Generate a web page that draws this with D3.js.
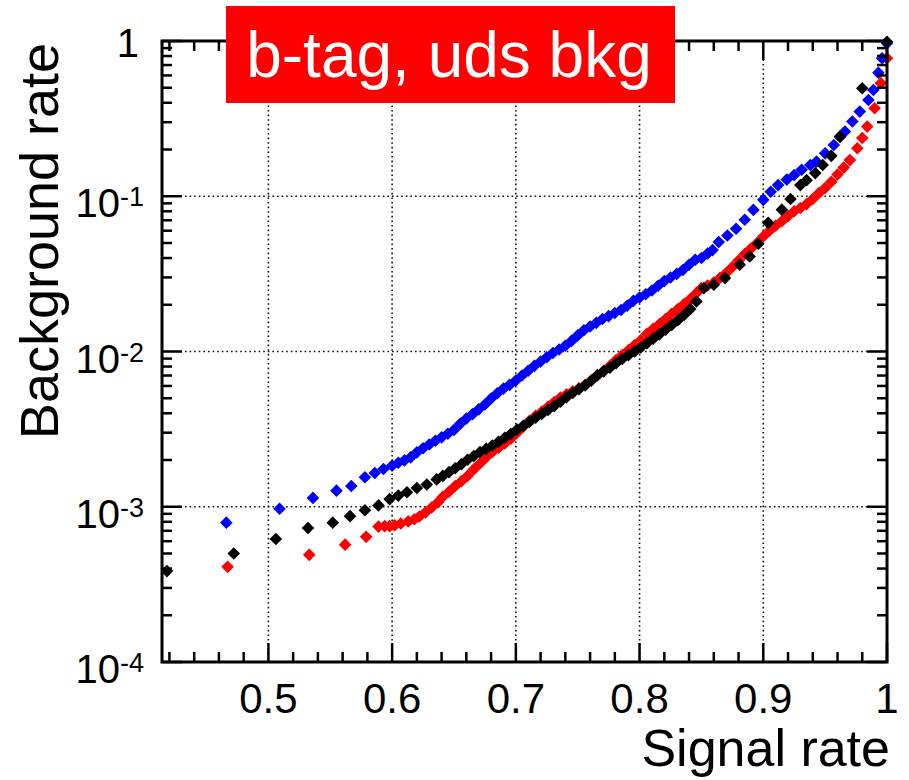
<!DOCTYPE html>
<html>
<head>
<meta charset="utf-8">
<script src="https://cdn.jsdelivr.net/npm/d3@7"></script>
<style>
  body { margin: 0; background: #fff; }
  text { font-family: "Liberation Sans", Arial, Helvetica, sans-serif; }
</style>
</head>
<body>
<svg id="roc" width="909" height="780"></svg>
<script>
var svg = d3.select("#roc");

// signal rate / background rate pairs
var redSignal = [0.467, 0.533, 0.562, 0.579, 0.589, 0.594, 0.598, 0.602, 0.607, 0.613, 0.618, 0.622, 0.627, 0.632, 0.637,
  0.641, 0.646, 0.651, 0.656, 0.661, 0.666, 0.671, 0.676, 0.681, 0.686, 0.691, 0.696, 0.701, 0.706, 0.711, 0.716, 0.721,
  0.726, 0.731, 0.736, 0.741, 0.746, 0.751, 0.756, 0.761, 0.766, 0.771, 0.776, 0.781, 0.786, 0.791, 0.796, 0.801, 0.806,
  0.811, 0.816, 0.821, 0.826, 0.831, 0.836, 0.841, 0.846, 0.850, 0.855, 0.860, 0.865, 0.870, 0.875, 0.880, 0.885, 0.890,
  0.895, 0.900, 0.905, 0.910, 0.915, 0.920, 0.925, 0.930, 0.935, 0.940, 0.945, 0.950, 0.955, 0.960, 0.965, 0.970, 0.976,
  0.980, 0.984, 0.990, 0.995, 1.0];
var redBkg = [4.1e-4, 4.9e-4, 5.7e-4, 6.4e-4, 7.45e-4, 7.5e-4, 7.5e-4, 7.6e-4, 7.8e-4, 8.05e-4, 8.3e-4, 8.65e-4, 9.2e-4, 9.9e-4, 1.07e-3,
  1.16e-3, 1.25e-3, 1.36e-3, 1.46e-3, 1.58e-3, 1.74e-3, 1.90e-3, 2.08e-3, 2.25e-3, 2.40e-3, 2.56e-3, 2.74e-3, 3.0e-3, 3.28e-3, 3.58e-3, 3.85e-3, 4.10e-3,
  4.40e-3, 4.72e-3, 5.05e-3, 5.30e-3, 5.55e-3, 5.80e-3, 6.10e-3, 6.50e-3, 7.0e-3, 7.5e-3, 8.1e-3, 8.8e-3, 9.5e-3, 1.02e-2, 1.1e-2, 1.18e-2, 1.3e-2,
  1.40e-2, 1.50e-2, 1.62e-2, 1.75e-2, 1.88e-2, 2.02e-2, 2.18e-2, 2.38e-2, 2.56e-2, 2.66e-2, 2.78e-2, 2.98e-2, 3.2e-2, 3.5e-2, 3.85e-2, 4.25e-2, 4.6e-2,
  5.0e-2, 5.5e-2, 6.0e-2, 6.45e-2, 6.9e-2, 7.45e-2, 8.0e-2, 8.4e-2, 8.9e-2, 9.6e-2, 0.105, 0.113, 0.124, 0.138, 0.153, 0.171, 0.204,
  0.237, 0.281, 0.369, 0.535, 0.774];

var blueSignal = [0.466, 0.509, 0.536, 0.555, 0.567, 0.578, 0.586, 0.593, 0.600, 0.605, 0.610, 0.615, 0.620, 0.625, 0.630,
  0.635, 0.640, 0.645, 0.650, 0.655, 0.660, 0.665, 0.670, 0.675, 0.680, 0.685, 0.690, 0.695, 0.700, 0.705, 0.710, 0.715,
  0.720, 0.725, 0.730, 0.735, 0.740, 0.745, 0.750, 0.755, 0.760, 0.765, 0.770, 0.775, 0.780, 0.785, 0.790, 0.795, 0.800,
  0.805, 0.810, 0.815, 0.820, 0.825, 0.830, 0.835, 0.840, 0.845, 0.850, 0.855, 0.859, 0.864, 0.871, 0.878, 0.885, 0.892,
  0.900, 0.906, 0.912, 0.919, 0.925, 0.931, 0.938, 0.943, 0.950, 0.957, 0.962, 0.966, 0.972, 0.978, 0.985, 0.989, 0.993,
  0.996, 1.0];
var blueBkg = [7.9e-4, 9.7e-4, 1.14e-3, 1.27e-3, 1.36e-3, 1.55e-3, 1.65e-3, 1.75e-3, 1.84e-3, 1.92e-3, 1.99e-3, 2.08e-3, 2.24e-3, 2.38e-3, 2.52e-3,
  2.66e-3, 2.80e-3, 2.95e-3, 3.12e-3, 3.42e-3, 3.70e-3, 3.95e-3, 4.24e-3, 4.56e-3, 4.98e-3, 5.38e-3, 5.77e-3, 6.10e-3, 6.50e-3, 7.00e-3, 7.52e-3, 8.08e-3,
  8.62e-3, 9.18e-3, 9.78e-3, 1.03e-2, 1.09e-2, 1.17e-2, 1.27e-2, 1.37e-2, 1.45e-2, 1.53e-2, 1.62e-2, 1.69e-2, 1.77e-2, 1.85e-2, 1.97e-2, 2.12e-2, 2.23e-2,
  2.34e-2, 2.47e-2, 2.65e-2, 2.84e-2, 3.00e-2, 3.16e-2, 3.35e-2, 3.62e-2, 3.90e-2, 4.00e-2, 4.28e-2, 4.5e-2, 5.07e-2, 5.59e-2, 6.17e-2, 7.05e-2, 8.17e-2,
  9.48e-2, 0.107, 0.118, 0.128, 0.137, 0.148, 0.159, 0.167, 0.189, 0.214, 0.242, 0.261, 0.303, 0.351, 0.417, 0.484, 0.625,
  0.774, 0.966];

var blackSignal = [0.418, 0.472, 0.506, 0.532, 0.552, 0.566, 0.578, 0.589, 0.598, 0.605, 0.612, 0.620, 0.628, 0.636, 0.641,
  0.646, 0.651, 0.656, 0.661, 0.666, 0.671, 0.676, 0.681, 0.686, 0.691, 0.696, 0.701, 0.706, 0.711, 0.716, 0.721, 0.726,
  0.731, 0.736, 0.741, 0.746, 0.751, 0.756, 0.761, 0.766, 0.771, 0.776, 0.781, 0.786, 0.791, 0.796, 0.801, 0.806, 0.811,
  0.816, 0.821, 0.826, 0.831, 0.836, 0.841, 0.846, 0.852, 0.860, 0.869, 0.881, 0.889, 0.896, 0.904, 0.915, 0.922, 0.930,
  0.935, 0.942, 0.948, 0.955, 0.962, 0.980, 1.0];
var blackBkg = [3.85e-4, 5.0e-4, 6.2e-4, 7.3e-4, 7.9e-4, 8.7e-4, 9.5e-4, 1.02e-3, 1.12e-3, 1.18e-3, 1.24e-3, 1.32e-3, 1.39e-3, 1.50e-3, 1.58e-3,
  1.67e-3, 1.77e-3, 1.88e-3, 2.01e-3, 2.12e-3, 2.25e-3, 2.36e-3, 2.48e-3, 2.62e-3, 2.78e-3, 2.95e-3, 3.14e-3, 3.32e-3, 3.52e-3, 3.74e-3, 3.96e-3, 4.20e-3,
  4.45e-3, 4.75e-3, 5.08e-3, 5.40e-3, 5.72e-3, 6.05e-3, 6.50e-3, 7.05e-3, 7.45e-3, 7.85e-3, 8.40e-3, 8.95e-3, 9.45e-3, 1.0e-2, 1.06e-2, 1.13e-2, 1.21e-2,
  1.29e-2, 1.38e-2, 1.48e-2, 1.59e-2, 1.72e-2, 1.88e-2, 2.10e-2, 2.56e-2, 2.69e-2, 2.97e-2, 3.62e-2, 4.09e-2, 4.94e-2, 6.74e-2, 8.2e-2, 9.6e-2, 0.118,
  0.127, 0.141, 0.159, 0.182, 0.242, 0.496, 0.99];

var xTicks = [0.5, 0.6, 0.7, 0.8, 0.9, 1];
var xTickLabels = ["0.5", "0.6", "0.7", "0.8", "0.9", "1"];
var yTicks = [1, 1e-1, 1e-2, 1e-3, 1e-4];
var yTickExp = ["", "-1", "-2", "-3", "-4"];

// frame edges (plotTop, not "top": that one is window.top)
var plotLeft = 162, plotRight = 887, plotTop = 41, plotBottom = 662;

var x = d3.scaleLinear().domain([0.414, 1]).range([plotLeft, plotRight]);
var y = d3.scaleLog().domain([1e-4, 1]).range([plotBottom, plotTop]);

// dotted grid on major ticks
var grid = svg.append("g")
  .attr("stroke", "#111")
  .attr("stroke-width", 1.6)
  .attr("stroke-dasharray", "1.6,3");
xTicks.filter(d => d < 1).forEach(function (d) {
  grid.append("line").attr("x1", x(d)).attr("x2", x(d)).attr("y1", plotTop).attr("y2", plotBottom);
});
yTicks.filter(d => d < 1 && d > 1e-4).forEach(function (d) {
  grid.append("line").attr("x1", plotLeft).attr("x2", plotRight).attr("y1", y(d)).attr("y2", y(d));
});

// markers
var diamond = "M0,-6.3L6.3,0L0,6.3L-6.3,0Z";
function plotSeries(sig, bkg, color) {
  svg.append("g").selectAll("path")
    .data(sig.map((s, i) => [s, bkg[i]]))
    .enter().append("path")
    .attr("d", diamond)
    .attr("transform", d => "translate(" + x(d[0]) + "," + y(d[1]) + ")")
    .attr("fill", color);
}
plotSeries(redSignal, redBkg, "#ff0000");
plotSeries(blueSignal, blueBkg, "#0000ff");
plotSeries(blackSignal, blackBkg, "#000000");

// frame and inward ticks
var axes = svg.append("g").attr("stroke", "#000");
axes.append("rect")
  .attr("x", plotLeft).attr("y", plotTop)
  .attr("width", plotRight - plotLeft).attr("height", plotBottom - plotTop)
  .attr("fill", "none").attr("stroke-width", 3);

var xMinor = d3.range(0.42, 1.0001, 0.02);
xMinor.forEach(function (d) {
  var major = Math.abs(d * 10 - Math.round(d * 10)) < 1e-6;
  var len = major ? 19 : 10;
  axes.append("line").attr("x1", x(d)).attr("x2", x(d)).attr("y1", plotBottom).attr("y2", plotBottom - len).attr("stroke-width", 2.5);
  axes.append("line").attr("x1", x(d)).attr("x2", x(d)).attr("y1", plotTop).attr("y2", plotTop + len).attr("stroke-width", 2.5);
});

var yMinor = [];
[1e-4, 1e-3, 1e-2, 1e-1].forEach(function (p) {
  for (var k = 1; k < 10; k++) yMinor.push(p * k);
});
yMinor.push(1);
yMinor.forEach(function (d, i) {
  var major = (i % 9 === 0);
  var len = major ? 20 : 10;
  axes.append("line").attr("x1", plotLeft).attr("x2", plotLeft + len).attr("y1", y(d)).attr("y2", y(d)).attr("stroke-width", 2.5);
  axes.append("line").attr("x1", plotRight).attr("x2", plotRight - len).attr("y1", y(d)).attr("y2", y(d)).attr("stroke-width", 2.5);
});

// tick labels
xTicks.forEach(function (d, i) {
  svg.append("text")
    .attr("x", x(d)).attr("y", 713)
    .attr("text-anchor", "middle")
    .attr("font-size", 42)
    .text(xTickLabels[i]);
});

yTicks.forEach(function (d, i) {
  var t = svg.append("text")
    .attr("x", 144)
    .attr("text-anchor", "end")
    .attr("font-size", 40);
  if (yTickExp[i] === "") {
    t.attr("x", 139).attr("y", y(d) + 16).text("1");
  } else {
    t.attr("y", y(d) + 21);
    t.append("tspan").text("10");
    t.append("tspan").attr("font-size", 27).attr("dy", -11).text(yTickExp[i]);
  }
});

// axis titles
svg.append("text")
  .attr("x", 890).attr("y", 766)
  .attr("text-anchor", "end")
  .attr("font-size", 52)
  .text("Signal rate");

svg.append("text")
  .attr("transform", "translate(58,241)rotate(-90)")
  .attr("text-anchor", "middle")
  .attr("font-size", 54)
  .text("Background rate");

// label box
svg.append("rect")
  .attr("x", 226).attr("y", 6)
  .attr("width", 449).attr("height", 97)
  .attr("fill", "#ff0000");
svg.append("text")
  .attr("x", 449).attr("y", 77)
  .attr("text-anchor", "middle")
  .attr("font-size", 64)
  .attr("fill", "#fff")
  .text("b-tag, uds bkg");
</script>
</body>
</html>
